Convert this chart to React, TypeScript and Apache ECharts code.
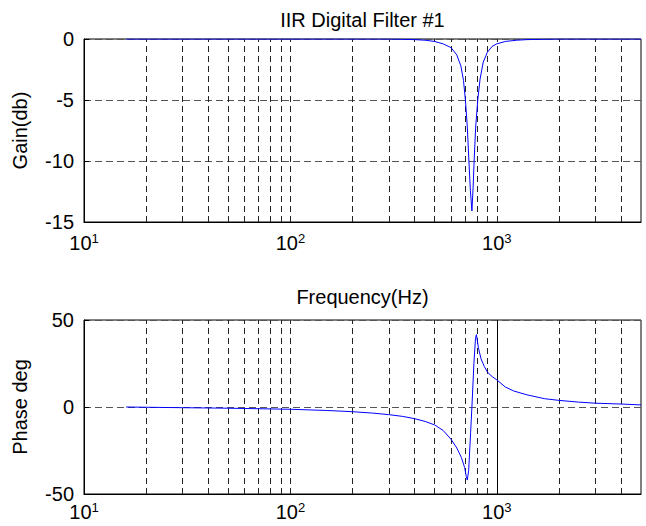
import React, { useEffect, useRef } from "react";
import * as echarts from "echarts";

// ---- Data ----
const gainFreq = [16, 50, 100, 200, 300, 400, 450, 500, 550, 600, 640, 670, 690, 705, 720, 733, 745, 758, 768, 777, 790, 809, 830, 860, 900, 950, 1000, 1100, 1250, 1400, 2000, 3000, 5000];
const gainDb = [0, 0, 0, 0, 0, -0.05, -0.1, -0.2, -0.4, -0.7, -1.3, -2.2, -3.4, -5, -7.2, -10, -12.4, -14.1, -12.2, -10, -7.3, -5, -3.3, -1.9, -1.1, -0.6, -0.4, -0.2, -0.1, -0.05, 0, 0, 0];

const phaseFreq = [16, 30, 50, 100, 150, 200, 250, 300, 350, 400, 450, 500, 550, 600, 640, 674, 699, 712, 720, 731, 747, 758, 775, 789, 797, 815, 839, 871, 903, 950, 1000, 1100, 1209, 1400, 1700, 2000, 2500, 3000, 4000, 5000];
const phaseDeg = [0, -0.4, -0.7, -1.3, -2, -2.7, -3.5, -4.4, -5.4, -6.7, -8.3, -10.3, -13.5, -18.5, -23.5, -29, -34.8, -40, -42, -36.6, -14.8, 0, 25, 39.5, 41.6, 34, 27.7, 23.2, 19.9, 17.5, 15.6, 11.5, 9.2, 7, 4.8, 3.8, 2.8, 2.2, 1.7, 1.2];

const gridFreqs = [20, 30, 40, 50, 60, 70, 80, 90, 100, 200, 300, 400, 500, 600, 700, 800, 900, 1000, 2000, 3000, 4000];
const gridFreqsPhase = [20, 30, 40, 50, 60, 70, 80, 90, 100, 200, 300, 400, 500, 600, 700, 800, 900, 2000, 3000, 4000];
const solidFreqsPhase = [1000];

const FONT = "Liberation Sans";

export default function App() {
  const ref = useRef<HTMLDivElement>(null);
  useEffect(() => {
    if (!ref.current) return;
    const chart = echarts.init(ref.current, null, { renderer: "svg" });

    const xAxisBase = (gridIndex: number, margin: number) => ({
      type: "log",
      logBase: 10,
      gridIndex,
      min: 10,
      max: 5000,
      axisLine: { show: true, onZero: false, lineStyle: { color: "#000", width: 1 } },
      axisTick: { show: true, inside: true, length: 5, lineStyle: { color: "#000" } },
      splitLine: { show: false },
      axisLabel: {
        margin,
        showMaxLabel: false,
        formatter: (v: number) => {
          const e = Math.log10(v);
          if (Math.abs(e - Math.round(e)) > 1e-6) return "";
          return `{b|10}{s|${Math.round(e)}}`;
        },
        rich: {
          b: { fontSize: 20, fontFamily: FONT, color: "#000", lineHeight: 22 },
          s: { fontSize: 13, fontFamily: FONT, color: "#000", lineHeight: 12, verticalAlign: "top" },
        },
      },
    });

    const yAxisBase = (gridIndex: number, min: number, max: number, interval: number, name: string) => ({
      type: "value",
      gridIndex,
      min,
      max,
      interval,
      name,
      nameLocation: "middle",
      nameRotate: 90,
      nameGap: 54,
      nameTextStyle: { fontSize: 20, fontFamily: FONT, color: "#000" },
      axisLine: { show: true, onZero: false, lineStyle: { color: "#000", width: 1 } },
      axisTick: { show: true, inside: true, length: 5, lineStyle: { color: "#000" } },
      splitLine: { show: true, lineStyle: { color: "#555", type: [7, 4], width: 1 } },
      axisLabel: { fontSize: 20, fontFamily: FONT, color: "#000", margin: 10 },
    });

    const vGrid = (freqs: number[], type: any, color: string) =>
      freqs.map((f) => ({ xAxis: f, lineStyle: { type, color, width: 1 } }));

    chart.setOption({
      animation: false,
      backgroundColor: "#fff",
      grid: [
        { left: 84, top: 39, width: 557, height: 183, show: true, borderColor: "#000", borderWidth: 1, backgroundColor: "transparent" },
        { left: 84, top: 320, width: 557, height: 174, show: true, borderColor: "#000", borderWidth: 1, backgroundColor: "transparent" },
      ],
      xAxis: [xAxisBase(0, 10), xAxisBase(1, 7)],
      yAxis: [yAxisBase(0, -15, 0, 5, "Gain(db)"), yAxisBase(1, -50, 50, 50, "Phase deg")],
      graphic: [
        { type: "text", x: 362.5, y: 20, style: { text: "IIR Digital Filter #1", fontSize: 20, fontFamily: FONT, fill: "#000", textAlign: "center", textVerticalAlign: "middle" } },
        { type: "text", x: 362.5, y: 297, style: { text: "Frequency(Hz)", fontSize: 20, fontFamily: FONT, fill: "#000", textAlign: "center", textVerticalAlign: "middle" } },
      ],
      series: [
        {
          type: "line",
          xAxisIndex: 0,
          yAxisIndex: 0,
          data: gainFreq.map((f, i) => [f, gainDb[i]]),
          showSymbol: false,
          lineStyle: { color: "#0000ff", width: 1 },
          z: 5,
          markLine: {
            silent: true,
            symbol: ["none", "none"],
            label: { show: false },
            z: 1,
            data: vGrid(gridFreqs, [6, 4], "#222"),
          },
        },
        {
          type: "line",
          xAxisIndex: 1,
          yAxisIndex: 1,
          data: phaseFreq.map((f, i) => [f, phaseDeg[i]]),
          showSymbol: false,
          lineStyle: { color: "#0000ff", width: 1 },
          z: 5,
          markLine: {
            silent: true,
            symbol: ["none", "none"],
            label: { show: false },
            z: 1,
            data: [...vGrid(gridFreqsPhase, [6, 4], "#222"), ...vGrid(solidFreqsPhase, "solid", "#000")],
          },
        },
      ],
    });
    return () => chart.dispose();
  }, []);
  return <div ref={ref} style={{ position: "fixed", left: 0, top: 0, width: 646, height: 526, background: "#fff" }} />;
}
